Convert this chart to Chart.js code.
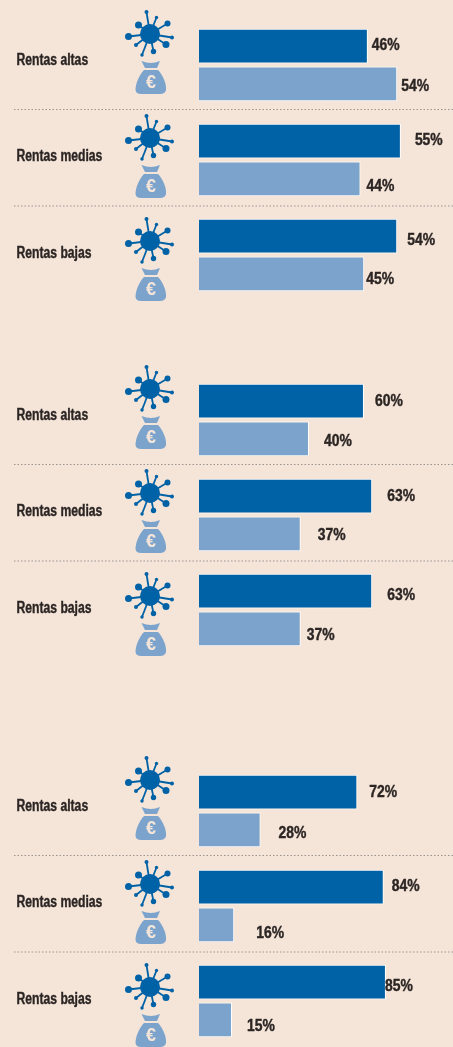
<!DOCTYPE html>
<html>
<head>
<meta charset="utf-8">
<title>Rentas</title>
<script src="https://cdn.jsdelivr.net/npm/chart.js"></script>
<style>
    html, body { margin: 0; padding: 0; width: 453px; height: 1047px; overflow: hidden; background: #f5e5d9; }
    canvas { position: absolute; left: 0; display: block; }
</style>
</head>
<body>
<canvas id="panel1" width="453" height="340" style="top:0"></canvas>
<canvas id="panel2" width="453" height="340" style="top:340px"></canvas>
<canvas id="panel3" width="453" height="340" style="top:730px"></canvas>
<script>
const categories = ['Rentas altas', 'Rentas medias', 'Rentas bajas'];

const virusPanel1 = [46, 55, 54];
const moneyPanel1 = [54, 44, 45];
const virusPanel2 = [60, 63, 63];
const moneyPanel2 = [40, 37, 37];
const virusPanel3 = [72, 84, 85];
const moneyPanel3 = [28, 16, 15];

const DARK = '#0062a6';
const LIGHT = '#7ba3cc';
const INK = '#2b2523';
const PAPER = '#f5e5d9';

// each panel has its own bar scale in the original
const panels = [
    { id: 'panel1', virus: virusPanel1, money: moneyPanel1, max: 69.2, top: 17.5, bottom: 37.5,
      gaps: [[4, 14, 10], [4, 6, 2]], nudges: [[-1, -1, 4], [3, 8, 6]] },
    { id: 'panel2', virus: virusPanel2, money: moneyPanel2, max: 92.4, top: 32.5, bottom: 22.5,
      gaps: [[11, 15, 15], [15, 17, 6]], nudges: [[0, 0.5, 4.5], [3, 1.5, 6.5]] },
    { id: 'panel3', virus: virusPanel3, money: moneyPanel3, max: 115.5, top: 33.5, bottom: 21.5,
      gaps: [[12, 8, -1], [18, 22, 15]], nudges: [[0, -0.5, 4.5], [3.5, 8.5, 6.5]] }
];

// rows are not evenly placed against the bars, offsets from the row centre
const iconOffsets = [-31, -22, -14];
const textOffsets = [-4.5, -3, -1];
const ruleOffsets = [44.5, 46];

// spike ends of the virus icon: dx, dy, dot radius
const spikes = [
    [-3.5, -22, 2], [6.5, -16.5, 1.7], [17.5, -10.5, 3], [22, 3.5, 2], [16, 10.5, 3.5],
    [3.5, 17.5, 2.7], [-8, 21, 1.7], [-14, 11, 2], [-21.5, 2.5, 3.5], [-11.5, -9, 3.5]
];

// no narrow font installed, so squeeze Liberation Sans Bold
function narrowText(ctx, text, x, y, size, squeeze) {
    ctx.save();
    ctx.font = 'bold ' + size + 'px "Liberation Sans"';
    ctx.textAlign = 'left';
    ctx.textBaseline = 'middle';
    ctx.translate(x, y);
    ctx.scale(squeeze, 1);
    ctx.strokeStyle = ctx.fillStyle;
    ctx.lineWidth = 0.4;
    ctx.fillText(text, 0, 0);
    ctx.strokeText(text, 0, 0);
    ctx.restore();
}

function drawVirus(ctx, cx, cy) {
    ctx.strokeStyle = DARK;
    ctx.fillStyle = DARK;
    ctx.lineWidth = 1.8;
    spikes.forEach(function(s) {
        ctx.beginPath();
        ctx.moveTo(cx, cy);
        ctx.lineTo(cx + s[0], cy + s[1]);
        ctx.stroke();
        ctx.beginPath();
        ctx.arc(cx + s[0], cy + s[1], s[2], 0, Math.PI * 2);
        ctx.fill();
    });
    ctx.beginPath();
    ctx.arc(cx, cy, 10, 0, Math.PI * 2);
    ctx.fill();
}

function drawBag(ctx, cx, cy) {
    ctx.fillStyle = LIGHT;
    // neck
    ctx.beginPath();
    ctx.moveTo(cx - 8.5, cy + 27);
    ctx.quadraticCurveTo(cx + 1, cy + 31, cx + 10, cy + 27);
    ctx.lineTo(cx + 7, cy + 34);
    ctx.lineTo(cx - 5, cy + 34);
    ctx.closePath();
    ctx.fill();
    // body
    ctx.beginPath();
    ctx.moveTo(cx - 6, cy + 36);
    ctx.lineTo(cx + 8, cy + 36);
    ctx.bezierCurveTo(cx + 13, cy + 41, cx + 16.5, cy + 50, cx + 16, cy + 56);
    ctx.quadraticCurveTo(cx + 15, cy + 60, cx + 10, cy + 60);
    ctx.lineTo(cx - 9, cy + 60);
    ctx.quadraticCurveTo(cx - 14, cy + 60, cx - 14.5, cy + 56);
    ctx.bezierCurveTo(cx - 14.5, cy + 50, cx - 11, cy + 41, cx - 6, cy + 36);
    ctx.fill();
    ctx.fillStyle = PAPER;
    ctx.font = 'bold 18px "Liberation Sans"';
    ctx.textAlign = 'center';
    ctx.textBaseline = 'middle';
    ctx.fillText('€', cx + 1, cy + 49);
}

const decorPlugin = {
    id: 'decor',
    afterDatasetsDraw: function(chart, args, opts) {
        const ctx = chart.ctx;
        const y = chart.scales.y;
        ctx.save();

        categories.forEach(function(name, i) {
            const rowY = y.getPixelForValue(i);

            ctx.fillStyle = INK;
            narrowText(ctx, name, 16.5, rowY + textOffsets[i], 16, 0.76);

            drawVirus(ctx, 150, rowY + iconOffsets[i]);
            drawBag(ctx, 150, rowY + iconOffsets[i]);

            if (i < ruleOffsets.length) {
                ctx.strokeStyle = '#9a938e';
                ctx.lineWidth = 1;
                ctx.setLineDash([1.5, 2]);
                ctx.beginPath();
                ctx.moveTo(14, rowY + ruleOffsets[i]);
                ctx.lineTo(453, rowY + ruleOffsets[i]);
                ctx.stroke();
                ctx.setLineDash([]);
            }
        });

        // value labels
        ctx.fillStyle = INK;
        chart.data.datasets.forEach(function(ds, d) {
            chart.getDatasetMeta(d).data.forEach(function(bar, i) {
                narrowText(ctx, ds.data[i] + '%', bar.x + opts.gaps[d][i], bar.y + opts.nudges[d][i], 16, 0.87);
            });
        });

        ctx.restore();
    }
};

panels.forEach(function(p) {
    new Chart(document.getElementById(p.id), {
        type: 'bar',
        data: {
            labels: categories,
            datasets: [
                { label: 'Virus', data: p.virus, backgroundColor: DARK, borderColor: '#ffffff', borderWidth: 1 },
                { label: 'Dinero', data: p.money, backgroundColor: LIGHT, borderColor: '#ffffff', borderWidth: 1 }
            ]
        },
        options: {
            indexAxis: 'y',
            responsive: false,
            animation: false,
            events: [],
            categoryPercentage: 0.796,
            barPercentage: 0.92,
            layout: { padding: { left: 199, right: 0, top: p.top, bottom: p.bottom } },
            scales: {
                x: { display: false, min: 0, max: p.max },
                y: { display: false }
            },
            plugins: {
                legend: { display: false },
                tooltip: { enabled: false },
                decor: { gaps: p.gaps, nudges: p.nudges }
            }
        },
        plugins: [decorPlugin]
    });
});
</script>
</body>
</html>
